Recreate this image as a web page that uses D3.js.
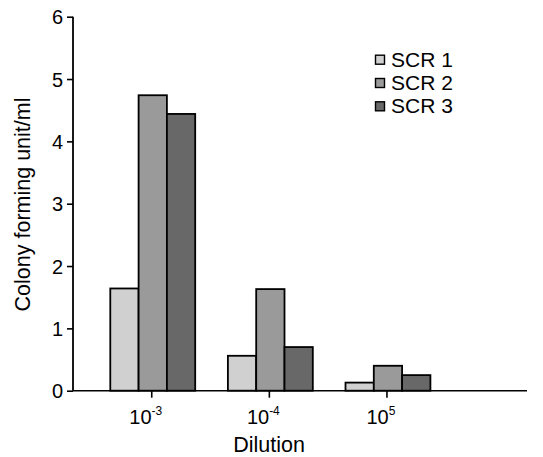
<!DOCTYPE html>
<html><head><meta charset="utf-8">
<script src="https://cdn.jsdelivr.net/npm/d3@7"></script>
<style>body{margin:0;background:#fff}svg{display:block}text{font-family:"Liberation Sans",Arial,sans-serif;fill:#000}</style>
</head><body><svg id="c" width="543" height="457"></svg>
<script>
const categories = ["-3", "-4", "5"];
const series = ["SCR 1", "SCR 2", "SCR 3"];
const scr1 = [1.64, 0.56, 0.13];
const scr2 = [4.74, 1.63, 0.40];
const scr3 = [4.44, 0.70, 0.25];
const yTicks = [0, 1, 2, 3, 4, 5, 6];
const colors = ["#d0d0d0", "#9a9a9a", "#686868"];

const values = [scr1, scr2, scr3];
const svg = d3.select("#c");
const x0 = 73, x1 = 527, yTop = 16.7, yBot = 390.7;
const y = d3.scaleLinear().domain([0, 6]).range([yBot, yTop]);
const x = d3.scaleBand().domain(categories).range([77.6, 463.1]).paddingInner(0.278).paddingOuter(0.278);
const xs = d3.scaleBand().domain(series).range([0, x.bandwidth()]);

// bars
categories.forEach((c, i) => {
  series.forEach((s, j) => {
    svg.append("rect")
      .attr("x", x(c) + xs(s))
      .attr("y", y(values[j][i]))
      .attr("width", xs.bandwidth())
      .attr("height", y(0) - y(values[j][i]))
      .attr("fill", colors[j])
      .attr("stroke", "#000").attr("stroke-width", 1.8);
  });
});

// y axis
const ya = svg.append("g").attr("transform", `translate(${x0},0)`)
  .call(d3.axisLeft(y).tickValues(yTicks).tickSize(6).tickPadding(4).tickFormat(d3.format("d")));
ya.select(".domain").attr("stroke-width", 1.8).attr("d", `M0,${yTop}V${yBot}`);
ya.selectAll(".tick line").attr("stroke-width", 1.6);
ya.selectAll(".tick text").attr("font-size", 20).attr("dy", "0.36em").style("font-family", '"Liberation Sans",Arial,sans-serif');

// x axis line
svg.append("line").attr("x1", x0).attr("x2", x1).attr("y1", yBot).attr("y2", yBot)
  .attr("stroke", "#000").attr("stroke-width", 1.6);
categories.forEach(c => {
  const cx = x(c) + x.bandwidth() / 2 - 1;
  svg.append("line").attr("x1", cx).attr("x2", cx).attr("y1", yBot).attr("y2", yBot + 7)
    .attr("stroke", "#000").attr("stroke-width", 1.6);
  const t = svg.append("text").attr("x", cx - 6).attr("y", 423.5).attr("text-anchor", "middle").attr("font-size", 20);
  t.append("tspan").text("10");
  t.append("tspan").attr("dy", -9).attr("font-size", 12).text(c);
});

// axis titles
svg.append("text").attr("transform", "translate(30,204.5) rotate(-90)").attr("text-anchor", "middle")
  .attr("font-size", 21.5).text("Colony forming unit/ml");
svg.append("text").attr("x", 269).attr("y", 452).attr("text-anchor", "middle").attr("font-size", 21.5).text("Dilution");

// legend
series.forEach((s, j) => {
  const ly = 66.7 + j * 23.3;
  svg.append("rect").attr("x", 375.5).attr("y", ly - 11.5).attr("width", 9).attr("height", 9)
    .attr("fill", colors[j]).attr("stroke", "#000").attr("stroke-width", 1.4);
  svg.append("text").attr("x", 391).attr("y", ly).attr("font-size", 21).text(s);
});
</script></body></html>
